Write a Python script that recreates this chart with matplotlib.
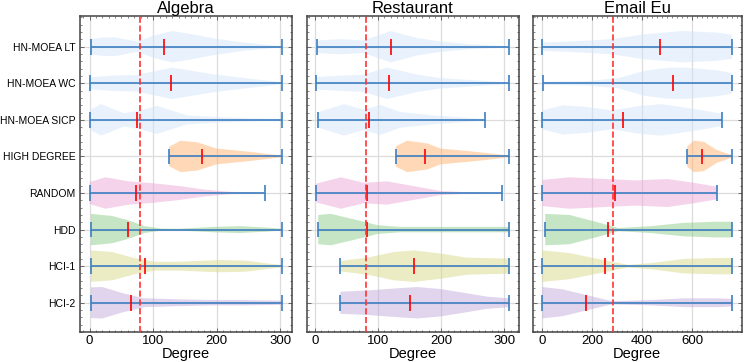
import matplotlib
matplotlib.use("Agg")
import matplotlib.pyplot as plt
from matplotlib.ticker import AutoMinorLocator
import numpy as np

plt.rcParams['font.family'] = ['Liberation Sans', 'DejaVu Sans']

methods = ["HN-MOEA LT", "HN-MOEA WC", "HN-MOEA SICP", "HIGH DEGREE",
           "RANDOM", "HDD", "HCI-1", "HCI-2"]
datasets = ["Algebra", "Restaurant", "Email Eu"]
thresholds = [79, 80, 282]
xticks = [[0, 100, 200, 300], [0, 100, 200, 300], [0, 200, 400, 600]]

# --- Algebra: density profiles (degree coords, relative width), min, median, max
alg_coords = [
    [2, 20, 40, 75, 100, 130, 160, 195, 245, 303],
    [0, 38, 75, 100, 130, 160, 194, 246, 303],
    [0, 18, 54, 80, 106, 153, 200, 250, 303],
    [125, 143, 169, 200, 250, 303],
    [0, 25, 60, 100, 140, 180, 220, 276],
    [2, 35, 60, 86, 112, 138, 194, 236, 278, 303],
    [2, 35, 72, 103, 140, 204, 246, 280, 303],
    [2, 20, 50, 86, 138, 194, 246, 303],
]
alg_vals = [
    [0.48, 0.58, 0.6, 0.32, 0.7, 1.0, 0.8, 0.53, 0.25, 0.03],
    [0.38, 0.49, 0.53, 0.75, 1.0, 0.8, 0.57, 0.32, 0.06],
    [0.62, 1.0, 0.42, 0.6, 0.89, 0.29, 0.18, 0.1, 0.05],
    [0.62, 1.0, 0.9, 0.5, 0.3, 0.05],
    [0.7, 1.0, 0.75, 0.62, 0.45, 0.22, 0.08, 0.02],
    [1.0, 0.87, 0.6, 0.22, 0.07, 0.05, 0.17, 0.22, 0.13, 0.05],
    [1.0, 0.9, 0.5, 0.28, 0.28, 0.39, 0.35, 0.17, 0.07],
    [0.98, 1.0, 0.63, 0.28, 0.22, 0.17, 0.17, 0.13],
]
alg_median = [117, 128, 74, 176, 73, 60, 87, 65]

# --- Restaurant
res_coords = [
    [3, 41, 77, 120, 162, 199, 241, 308],
    [2, 41, 77, 114, 162, 199, 241, 308],
    [5, 46, 77, 104, 135, 188, 241, 270],
    [128, 146, 178, 199, 241, 272, 308],
    [2, 41, 77, 114, 162, 199, 241, 297],
    [5, 25, 67, 99, 135, 215, 308],
    [40, 83, 125, 157, 199, 241, 308],
    [40, 83, 135, 162, 199, 241, 272, 308],
]
res_vals = [
    [0.4, 0.48, 0.4, 1.0, 0.55, 0.33, 0.17, 0.03],
    [0.4, 0.48, 0.55, 1.0, 0.55, 0.33, 0.22, 0.05],
    [0.5, 1.0, 0.65, 0.95, 0.5, 0.28, 0.13, 0.04],
    [0.65, 1.0, 0.83, 0.5, 0.35, 0.22, 0.05],
    [0.6, 1.0, 0.65, 0.74, 0.4, 0.13, 0.05, 0.02],
    [0.93, 1.0, 0.6, 0.28, 0.17, 0.17, 0.17],
    [0.33, 0.54, 0.9, 1.0, 0.8, 0.54, 0.48],
    [0.7, 0.78, 0.93, 1.0, 0.87, 0.6, 0.39, 0.28],
]
res_median = [120, 117, 85, 174, 82, 83, 157, 150]

# --- Email Eu
eml_coords = [
    [0, 109, 279, 410, 567, 698, 760],
    [5, 174, 305, 410, 502, 567, 698, 760],
    [0, 83, 174, 279, 384, 476, 607, 720],
    [580, 607, 646, 698, 760],
    [0, 109, 240, 371, 502, 607, 700],
    [12, 109, 214, 305, 436, 567, 698, 760],
    [0, 109, 240, 345, 436, 567, 698, 760],
    [0, 83, 174, 279, 436, 567, 698, 760],
]
eml_vals = [
    [0.26, 0.33, 0.48, 0.8, 1.0, 0.9, 0.76],
    [0.1, 0.13, 0.33, 0.8, 0.98, 1.0, 0.83, 0.65],
    [0.6, 0.93, 0.83, 0.6, 0.87, 1.0, 0.7, 0.39],
    [0.62, 0.96, 0.9, 0.4, 0.07],
    [0.83, 1.0, 0.9, 0.8, 0.89, 0.65, 0.4],
    [1.0, 0.93, 0.5, 0.1, 0.22, 0.43, 0.5, 0.5],
    [1.0, 0.83, 0.41, 0.08, 0.2, 0.46, 0.52, 0.52],
    [1.0, 0.85, 0.5, 0.1, 0.17, 0.28, 0.28, 0.24],
]
eml_median = [470, 525, 325, 640, 290, 265, 250, 175]

all_coords = [alg_coords, res_coords, eml_coords]
all_vals = [alg_vals, res_vals, eml_vals]
all_median = [alg_median, res_median, eml_median]

face_colors = ["#d2e5fa", "#d2e5fa", "#d2e5fa", "#ffb470",
               "#eca8d8", "#8ccc8a", "#d8d88a", "#c3acdc"]
line_blue = "#3d7fc1"

fig = plt.figure(figsize=(7.47, 3.62), dpi=100)
boxes = [[80, 292], [306.7, 519], [532.7, 741.7]]
W, H = 747.0, 362.0
top_px, bot_px = 16, 332

positions = np.arange(len(methods))
for k, name in enumerate(datasets):
    l, r = boxes[k]
    ax = fig.add_axes([l / W, (H - bot_px) / H, (r - l) / W, (bot_px - top_px) / H])
    stats = []
    for i in range(len(methods)):
        c = all_coords[k][i]
        v = all_vals[k][i]
        stats.append(dict(coords=np.array(c, float), vals=np.array(v, float),
                          mean=float(np.mean(c)), median=all_median[k][i],
                          min=c[0], max=c[-1]))
    parts = ax.violin(stats, positions=positions, orientation='horizontal',
                      widths=0.86, showmeans=False, showextrema=True,
                      showmedians=True)
    for i, body in enumerate(parts['bodies']):
        body.set_facecolor(face_colors[i])
        body.set_edgecolor('none')
        body.set_alpha(0.5)
    for key in ['cbars', 'cmins', 'cmaxes']:
        parts[key].set_color(line_blue)
        parts[key].set_linewidth(1.2)
    parts['cmedians'].set_color('red')
    parts['cmedians'].set_linewidth(1.2)

    ax.axvline(thresholds[k], color='#ff3333', linestyle='--', linewidth=1.2, zorder=5)

    ax.set_ylim(7.8, -0.84)
    ax.set_yticks(positions)
    if k == 0:
        ax.set_yticklabels(methods, fontsize=7.5)
    else:
        ax.set_yticklabels([])
    ax.set_xticks(xticks[k])
    ax.tick_params(axis='x', labelsize=9.5, pad=2)
    ax.xaxis.set_minor_locator(AutoMinorLocator(10))
    ax.yaxis.set_minor_locator(AutoMinorLocator(5))
    ax.tick_params(which='both', direction='in', top=True, right=True,
                   color='#555555')
    ax.tick_params(which='major', length=3, width=0.6)
    ax.tick_params(which='minor', length=1.5, width=0.5)
    ax.grid(True, which='major', color='#dcdcdc', linewidth=0.9)
    ax.set_axisbelow(True)
    for s in ax.spines.values():
        s.set_color('#444444')
        s.set_linewidth(1.1)
    ax.set_title(name, fontsize=12, pad=1.5)
    ax.set_xlabel("Degree", fontsize=10.5, labelpad=0)

fig.savefig("out.png", dpi=100)
